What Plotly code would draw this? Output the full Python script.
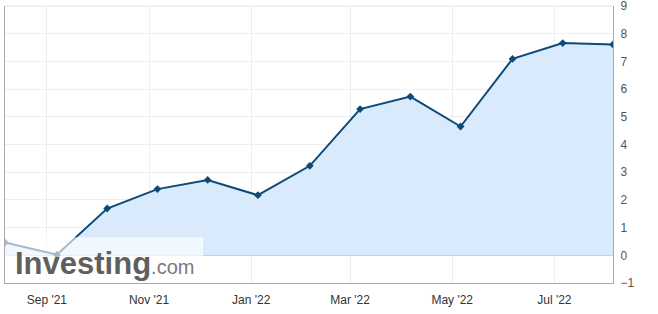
import plotly.graph_objects as go

dates = ["2021-08-07", "2021-09-07", "2021-10-07", "2021-11-06", "2021-12-06",
         "2022-01-05", "2022-02-05", "2022-03-07", "2022-04-06", "2022-05-06",
         "2022-06-06", "2022-07-06", "2022-08-05"]
values = [0.46, 0.02, 1.69, 2.39, 2.72, 2.17, 3.23, 5.28, 5.73, 4.65, 7.09, 7.66, 7.61]
y_ticks = [-1, 0, 1, 2, 3, 4, 5, 6, 7, 8, 9]

line_color = "#0d4a78"

fig = go.Figure()
fig.add_trace(go.Scatter(
    x=dates, y=values, mode="lines+markers",
    line=dict(color=line_color, width=2),
    marker=dict(symbol="diamond", size=6, color=line_color),
    fill="tozeroy", fillcolor="#d9eafc",
    hoverinfo="skip", showlegend=False,
))

fig.update_layout(
    width=658, height=314,
    margin=dict(l=5, r=45, t=6, b=31),
    paper_bgcolor="white", plot_bgcolor="white",
    font=dict(family="Liberation Sans, Arial, sans-serif", size=12, color="#333333"),
    xaxis=dict(
        range=[dates[0], dates[-1]],
        tick0="2021-09-01", dtick="M2", tickformat="%b '%y",
        showgrid=True, gridcolor="#eeeeee", gridwidth=1,
        showline=True, linecolor="#aaaaaa", linewidth=1,
        ticks="", ticklabelstandoff=6, zeroline=False,
        automargin=False, ticklabeloverflow="allow",
    ),
    yaxis=dict(
        range=[-1, 9], side="right", tickvals=y_ticks,
        showgrid=True, gridcolor="#eeeeee", gridwidth=1,
        zeroline=True, zerolinecolor="#c8c8c8", zerolinewidth=1,
        showline=True, linecolor="#aaaaaa", linewidth=1, mirror=True,
        ticks="", ticklabelstandoff=4, automargin=False,
        ticklabeloverflow="allow",
        tickfont=dict(color="#555555", size=12),
    ),
    shapes=[
        dict(type="line", xref="paper", yref="paper", x0=0, x1=1,
             y0=1, y1=1, line=dict(color="#e4e4e4", width=1), layer="below"),
        dict(type="rect", xref="paper", yref="paper", x0=0, x1=0.326,
             y0=0, y1=0.165, fillcolor="white", opacity=0.62,
             line=dict(width=0), layer="above"),
    ],
    annotations=[
        dict(xref="paper", yref="paper", x=0.013, y=0.0, xanchor="left", yanchor="bottom",
             text="<b>Investing</b><span style='font-size:20px;color:#7a7a7a'>.com</span>",
             showarrow=False,
             font=dict(family="Liberation Sans, Arial, sans-serif", size=31, color="#5f5f5f")),
    ],
)

fig.write_html("out.html")
